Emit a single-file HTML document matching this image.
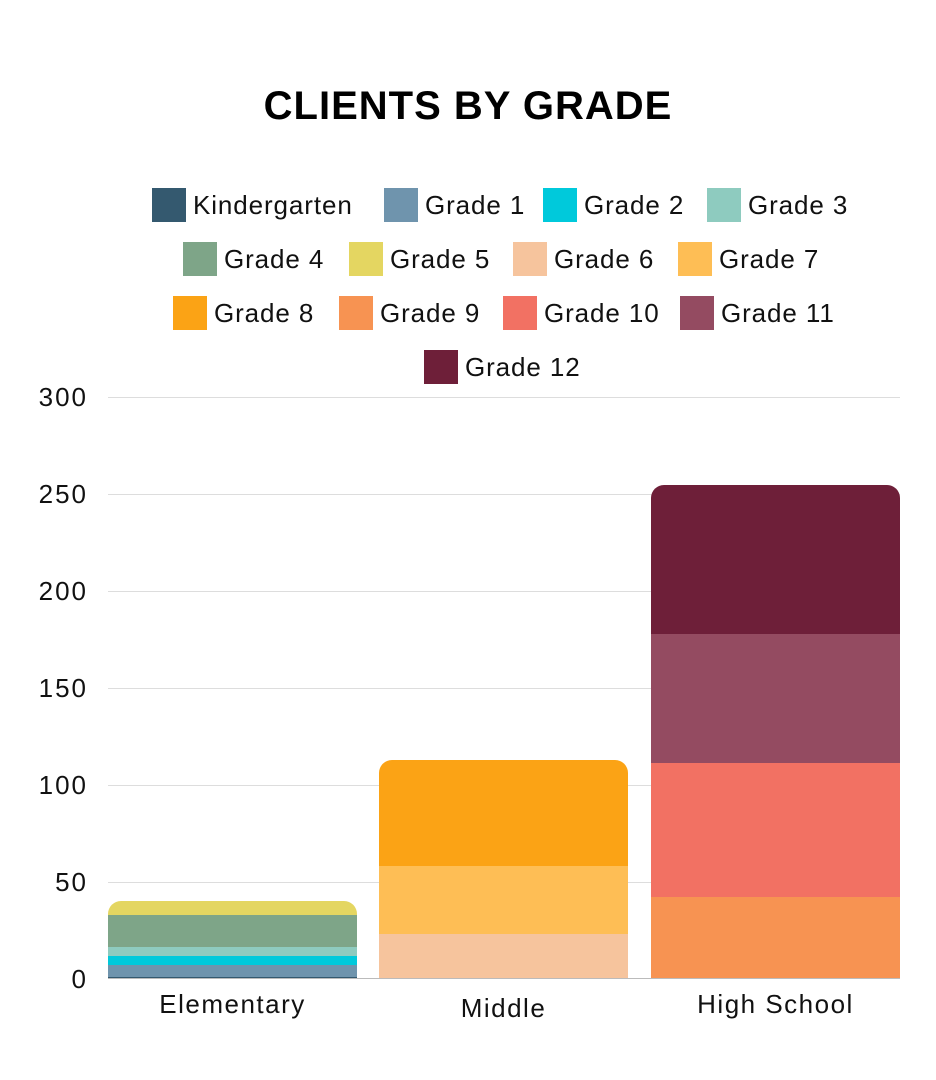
<!DOCTYPE html>
<html><head><style>
body{margin:0;width:936px;height:1080px;background:#fff;position:relative;font-family:"Liberation Sans",sans-serif;overflow:hidden}
.a{position:absolute}
.t{position:absolute;font-size:26px;color:#111;line-height:34px;white-space:nowrap;letter-spacing:0.9px}
.x{position:absolute;font-size:26px;color:#111;line-height:34px;white-space:nowrap;letter-spacing:1.5px;text-align:center}
.s{position:absolute;width:34px;height:34px}
.g{position:absolute;left:108px;width:792px;height:1px;background:#ddd}
.y{position:absolute;left:10px;width:78px;text-align:right;font-size:26px;color:#111;line-height:28px;letter-spacing:2px}
</style></head><body>
<div class="a" style="left:0;width:936px;top:84px;text-align:center;font-size:40px;font-weight:bold;color:#000;letter-spacing:1px">CLIENTS BY GRADE</div>

<div class="s" style="left:152px;top:188px;background:#34596f"></div><div class="t" style="left:193px;top:188px">Kindergarten</div>
<div class="s" style="left:384px;top:188px;background:#6f94ad"></div><div class="t" style="left:425px;top:188px">Grade 1</div>
<div class="s" style="left:543px;top:188px;background:#00c9db"></div><div class="t" style="left:584px;top:188px">Grade 2</div>
<div class="s" style="left:707px;top:188px;background:#8ecbbf"></div><div class="t" style="left:748px;top:188px">Grade 3</div>

<div class="s" style="left:183px;top:242px;background:#7ea588"></div><div class="t" style="left:224px;top:242px">Grade 4</div>
<div class="s" style="left:349px;top:242px;background:#e4d661"></div><div class="t" style="left:390px;top:242px">Grade 5</div>
<div class="s" style="left:513px;top:242px;background:#f6c49d"></div><div class="t" style="left:554px;top:242px">Grade 6</div>
<div class="s" style="left:678px;top:242px;background:#febe55"></div><div class="t" style="left:719px;top:242px">Grade 7</div>

<div class="s" style="left:173px;top:296px;background:#fba315"></div><div class="t" style="left:214px;top:296px">Grade 8</div>
<div class="s" style="left:339px;top:296px;background:#f79352"></div><div class="t" style="left:380px;top:296px">Grade 9</div>
<div class="s" style="left:503px;top:296px;background:#f27163"></div><div class="t" style="left:544px;top:296px">Grade 10</div>
<div class="s" style="left:680px;top:296px;background:#944b61"></div><div class="t" style="left:721px;top:296px">Grade 11</div>

<div class="s" style="left:424px;top:350px;background:#6e1f39"></div><div class="t" style="left:465px;top:350px">Grade 12</div>

<div class="g" style="top:397px"></div><div class="g" style="top:494px"></div><div class="g" style="top:591px"></div>
<div class="g" style="top:688px"></div><div class="g" style="top:785px"></div><div class="g" style="top:882px"></div>
<div class="a" style="left:108px;top:978px;width:792px;height:1px;background:#bbb"></div>
<div class="y" style="top:383px">300</div><div class="y" style="top:480px">250</div><div class="y" style="top:577px">200</div>
<div class="y" style="top:674px">150</div><div class="y" style="top:771px">100</div><div class="y" style="top:868px">50</div><div class="y" style="top:965px">0</div>

<div class="a" style="left:108px;top:901px;width:249px;height:77px;border-radius:13px 13px 0 0;overflow:hidden">
<div class="a" style="left:0;top:0;width:249px;height:14px;background:#e4d661"></div>
<div class="a" style="left:0;top:14px;width:249px;height:32px;background:#7ea588"></div>
<div class="a" style="left:0;top:46px;width:249px;height:9px;background:#8ecbbf"></div>
<div class="a" style="left:0;top:55px;width:249px;height:9px;background:#00c9db"></div>
<div class="a" style="left:0;top:64px;width:249px;height:12px;background:#6f94ad"></div>
<div class="a" style="left:0;top:76px;width:249px;height:1px;background:#34596f"></div>
</div>
<div class="a" style="left:379px;top:760px;width:249px;height:218px;border-radius:13px 13px 0 0;overflow:hidden">
<div class="a" style="left:0;top:0;width:249px;height:106px;background:#fba315"></div>
<div class="a" style="left:0;top:106px;width:249px;height:68px;background:#febe55"></div>
<div class="a" style="left:0;top:174px;width:249px;height:44px;background:#f6c49d"></div>
</div>
<div class="a" style="left:651px;top:485px;width:249px;height:493px;border-radius:13px 13px 0 0;overflow:hidden">
<div class="a" style="left:0;top:0;width:249px;height:149px;background:#6e1f39"></div>
<div class="a" style="left:0;top:149px;width:249px;height:129px;background:#944b61"></div>
<div class="a" style="left:0;top:278px;width:249px;height:134px;background:#f27163"></div>
<div class="a" style="left:0;top:412px;width:249px;height:81px;background:#f79352"></div>
</div>

<div class="x" style="left:108px;width:249px;top:987px">Elementary</div>
<div class="x" style="left:379px;width:249px;top:991px">Middle</div>
<div class="x" style="left:651px;width:249px;top:987px">High School</div>
</body></html>
